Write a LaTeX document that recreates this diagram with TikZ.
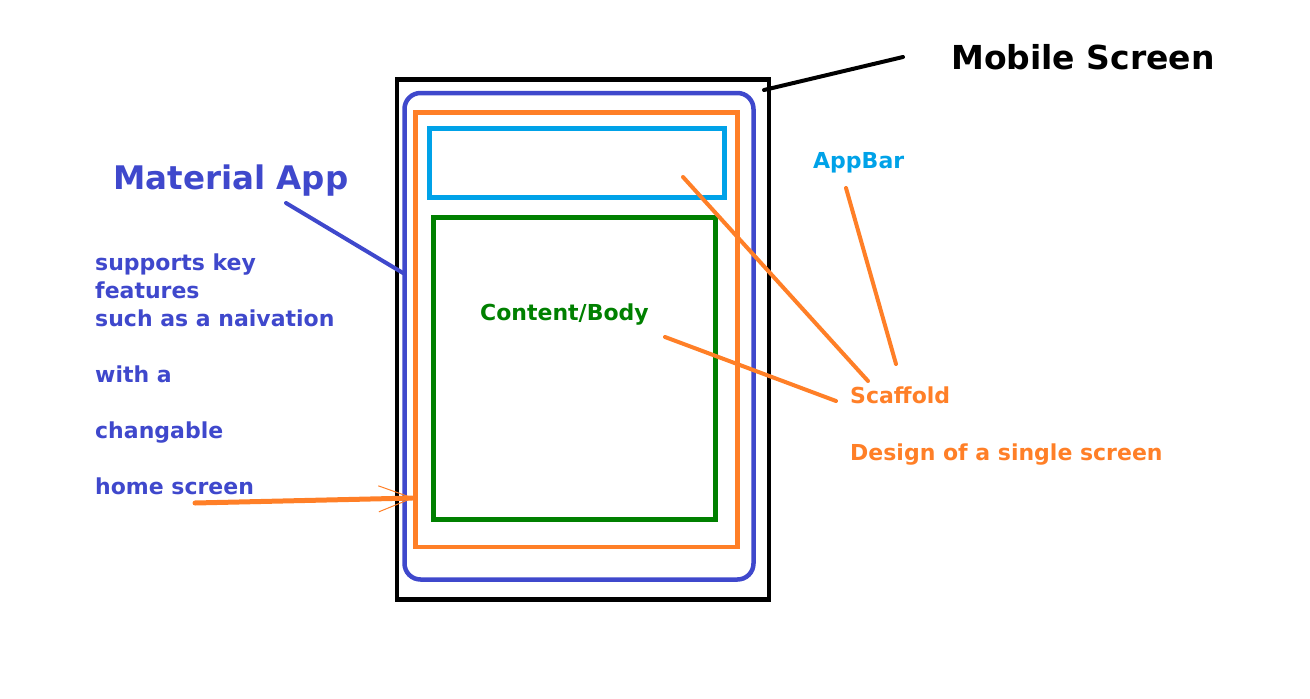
\documentclass[tikz,border=0pt]{standalone}
\usepackage{fontspec}
\setmainfont{DejaVu Sans}
\usetikzlibrary{arrows.meta}
\definecolor{paintblue}{HTML}{3F48CC}
\definecolor{paintorange}{HTML}{FF7F27}
\definecolor{paintgreen}{HTML}{008000}
\definecolor{paintcyan}{HTML}{00A2E8}
\begin{document}
\begin{tikzpicture}
  [x=1pt, y=-1pt]
  \tikzstyle{frame} = [inner sep=0pt, outer sep=0pt, line width=4.5pt];
  \tikzstyle{screen_box}   = [frame, draw=black];
  \tikzstyle{app_box}      = [frame, draw=paintblue, rounded corners=16pt];
  \tikzstyle{scaffold_box} = [frame, draw=paintorange];
  \tikzstyle{appbar_box}   = [frame, draw=paintcyan, line width=5pt];
  \tikzstyle{body_box}     = [frame, draw=paintgreen, line width=5pt];
  \tikzstyle{big_label}    = [anchor=base west, inner sep=0pt, font=\bfseries\fontsize{32.5}{40}\selectfont];
  \tikzstyle{small_label}  = [anchor=base west, inner sep=0pt, font=\bfseries\fontsize{22}{28}\selectfont];
  \tikzstyle{link}         = [line width=4pt, line cap=round];

  \useasboundingbox (0, 0) rectangle (1310, 699);

  \node[screen_box,   minimum width=372pt,   minimum height=520pt]   (screen)   at (583, 339.5) {};
  \node[app_box,      minimum width=349pt,   minimum height=486.5pt] (app)      at (579, 336.25) {};
  \node[scaffold_box, minimum width=322pt,   minimum height=434.5pt] (scaffold) at (576.5, 329.75) {};
  \node[appbar_box,   minimum width=295.5pt, minimum height=68.5pt]  (appbar)   at (576.75, 162.75) {};
  \node[body_box,     minimum width=282.5pt, minimum height=302pt]   (body)     at (574.25, 368) {};

  \node[big_label, font=\bfseries\fontsize{33}{40}\selectfont] (screen_txt) at (951, 69) {Mobile Screen};
  \node[big_label, text=paintblue] (app_txt) at (113, 189) {Material App};
  \node[small_label, text=paintblue, align=left] (app_info) at (95, 494)
    {supports key\\features\\such as a naivation\\[28pt]with a\\[28pt]changable\\[28pt]home screen};
  \node[small_label, text=paintcyan] (appbar_txt) at (813, 168) {AppBar};
  \node[small_label, text=paintgreen] (body_txt) at (480, 320) {Content/Body};
  \node[small_label, text=paintorange] (scaffold_txt) at (850, 403) {Scaffold};
  \node[small_label, text=paintorange] (design_txt) at (850, 460) {Design of a single screen};

  \coordinate (screen_a) at (903, 57);
  \coordinate (screen_b) at (764, 90);
  \coordinate (app_a) at (286, 203);
  \coordinate (app_b) at (403, 273);
  \coordinate (appbar_a) at (846, 188);
  \coordinate (appbar_b) at (896, 364);
  \coordinate (bar_a) at (683, 177);
  \coordinate (bar_b) at (868, 381);
  \coordinate (body_a) at (665, 337);
  \coordinate (body_b) at (836, 401);
  \coordinate (home_a) at (195, 503);
  \coordinate (home_b) at (414, 498);

  \draw[link, black] (screen_a) -- (screen_b);
  \draw[link, paintblue] (app_a) -- (app_b);
  \draw[link, paintorange] (appbar_a) -- (appbar_b);
  \draw[link, paintorange] (bar_a) -- (bar_b);
  \draw[link, paintorange] (body_a) -- (body_b);
  \draw[paintorange, line width=5pt, line cap=round,
    -{Straight Barb[length=34pt, width=26pt, line width=1pt]}] (home_a) -- (home_b);

\end{tikzpicture}
\end{document}
